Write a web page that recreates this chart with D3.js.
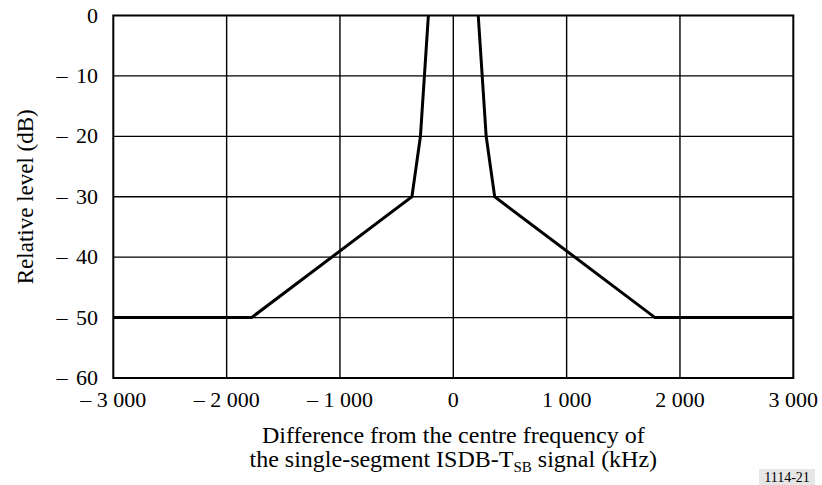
<!DOCTYPE html>
<head>
  <meta charset="utf-8">
  <script src="https://d3js.org/d3.v7.min.js"></script>
  <style>
    body { margin:0; background:#fff; }
    text { font-family: "Liberation Serif", "Times New Roman", serif; fill:#000; }
  </style>
</head>
<body>
<script>
  // spectrum mask (kHz, dB) - lower and upper skirts
  var freqs  = [-3000, -1780, -365, -290, -220, 220, 290, 365, 1780, 3000];
  var levels = [-50, -50, -30, -20, 0, 0, -20, -30, -50, -50];

  var xTicks = [-3000, -2000, -1000, 0, 1000, 2000, 3000];
  var xTickLabels = ['\u2013 3 000', '\u2013 2 000', '\u2013 1 000', '0', '1 000', '2 000', '3 000'];
  var yTicks = [0, -10, -20, -30, -40, -50, -60];
  var yTickLabels = ['0', '\u2013 10', '\u2013 20', '\u2013 30', '\u2013 40', '\u2013 50', '\u2013 60'];

  var width = 822, height = 485;
  var plotL = 113.3, plotR = 793.3, plotT = 15.5, plotB = 378;

  var svg = d3.select('body').append('svg')
    .attr('width', width)
    .attr('height', height);

  var x = d3.scaleLinear().domain([-3000, 3000]).range([plotL, plotR]);
  var y = d3.scaleLinear().domain([-60, 0]).range([plotB, plotT]);

  // grid
  svg.selectAll('.vgrid')
    .data(xTicks.slice(1, -1))
    .enter().append('line')
    .attr('x1', d => x(d)).attr('x2', d => x(d))
    .attr('y1', plotT).attr('y2', plotB)
    .attr('stroke', '#000').attr('stroke-width', 1.4);

  svg.selectAll('.hgrid')
    .data(yTicks.slice(1, -1))
    .enter().append('line')
    .attr('x1', plotL).attr('x2', plotR)
    .attr('y1', d => y(d)).attr('y2', d => y(d))
    .attr('stroke', '#000').attr('stroke-width', 1.4);

  // mask line, one path per side (no segment along the 0 dB frame)
  var pts = freqs.map((f, i) => [f, levels[i]]);
  var sides = [pts.filter(d => d[0] < 0), pts.filter(d => d[0] > 0)];
  var line = d3.line().x(d => x(d[0])).y(d => y(d[1]));
  svg.selectAll('.mask')
    .data(sides)
    .enter().append('path')
    .attr('d', line)
    .attr('fill', 'none')
    .attr('stroke', '#000')
    .attr('stroke-width', 3)
    .attr('stroke-linejoin', 'miter');

  // frame
  svg.append('rect')
    .attr('x', plotL).attr('y', plotT)
    .attr('width', plotR - plotL).attr('height', plotB - plotT)
    .attr('fill', 'none').attr('stroke', '#000').attr('stroke-width', 2);

  // tick labels
  svg.selectAll('.xlab')
    .data(xTicks)
    .enter().append('text')
    .attr('x', d => x(d))
    .attr('y', 407)
    .attr('text-anchor', 'middle')
    .style('font-size', '22px')
    .text((d, i) => xTickLabels[i]);

  svg.selectAll('.ylab')
    .data(yTicks)
    .enter().append('text')
    .attr('x', 98)
    .attr('y', d => y(d) + 7)
    .attr('text-anchor', 'end')
    .style('font-size', '22px')
    .style('word-spacing', '3px')
    .text((d, i) => yTickLabels[i]);

  // axis titles
  svg.append('text')
    .attr('transform', 'translate(33,' + ((plotT + plotB) / 2) + ') rotate(-90)')
    .attr('text-anchor', 'middle')
    .style('font-size', '23px')
    .text('Relative level (dB)');

  svg.append('text')
    .attr('x', x(0)).attr('y', 443)
    .attr('text-anchor', 'middle')
    .style('font-size', '24px')
    .text('Difference from the centre frequency of');

  var t2 = svg.append('text')
    .attr('x', x(0)).attr('y', 467)
    .attr('text-anchor', 'middle')
    .style('font-size', '24px');
  t2.append('tspan').text('the single-segment ISDB-T');
  t2.append('tspan').attr('dy', 5).style('font-size', '15px').text('SB');
  t2.append('tspan').attr('dy', -5).text(' signal (kHz)');

  // figure number
  svg.append('rect')
    .attr('x', 759).attr('y', 469).attr('width', 56).attr('height', 16)
    .attr('fill', '#e6e6e6');
  svg.append('text')
    .attr('x', 787).attr('y', 482)
    .attr('text-anchor', 'middle')
    .style('font-size', '14px')
    .text('1114-21');
</script>
</body>
